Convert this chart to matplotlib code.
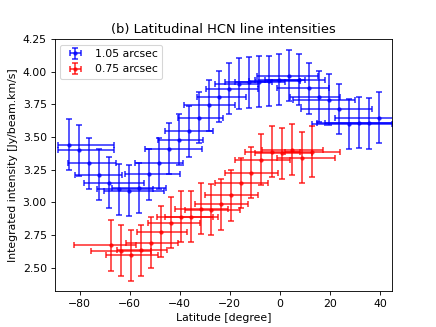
import matplotlib
matplotlib.use("Agg")
import matplotlib.pyplot as plt
import numpy as np

# 1.05 arcsec beam
lat_105 = [-84.4, -80.4, -76.4, -72.4, -68.4, -64.4, -60.4, -56.4, -52.4, -48.4,
           -44.4, -40.4, -36.4, -32.4, -28.4, -24.4, -20.4, -16.4, -12.4, -8.4,
           -4.4, -0.4, 3.6, 7.6, 11.6, 15.6, 19.6, 23.6, 27.6, 31.6, 35.6, 39.6]
int_105 = [3.44, 3.40, 3.30, 3.21, 3.15, 3.10, 3.09, 3.11, 3.215, 3.30,
           3.41, 3.48, 3.545, 3.65, 3.745, 3.81, 3.87, 3.91, 3.92, 3.925,
           3.93, 3.94, 3.97, 3.94, 3.875, 3.81, 3.785, 3.715, 3.60, 3.61, 3.605, 3.65]
lo_105 = [-88.8, -88.8, -84.8, -82.0, -78.4, -73.2, -70.4, -67.2, -62.0, -58.0,
          -54.0, -48.8, -46.0, -40.8, -38.4, -33.2, -29.6, -26.0, -22.0, -18.0,
          -12.4, -10.0, -9.2, -6.0, -1.2, 4.0, 5.2, 8.4, 12.8, 14.8, 18.0, 22.0]
hi_105 = [-66.4, -66.4, -65.6, -63.2, -54.4, -50.8, -46.4, -45.6, -40.0, -38.8,
          -31.2, -30.8, -26.8, -22.8, -18.0, -13.6, -8.8, -8.8, -3.2, 2.0,
          8.0, 10.0, 15.2, 18.0, 19.6, 24.0, 30.0, 36.8, 45.0, 46.0, 48.0, 48.0]
ierr_105 = 0.195

# 0.75 arcsec beam
lat_075 = [-67.3, -63.3, -59.3, -55.3, -51.3, -47.3, -43.3, -39.3, -35.3, -31.3,
           -27.3, -23.3, -19.3, -15.3, -11.3, -7.3, -3.3, 0.7, 4.7, 8.7, 12.7]
int_075 = [2.67, 2.63, 2.595, 2.633, 2.69, 2.775, 2.845, 2.888, 2.889, 2.951,
           2.943, 2.985, 3.054, 3.148, 3.228, 3.328, 3.389, 3.377, 3.402, 3.343, 3.389]
lo_075 = [-82.4, -75.6, -69.6, -65.2, -61.6, -57.2, -52.8, -49.2, -46.0, -42.0,
          -38.0, -34.0, -30.0, -26.0, -22.0, -18.0, -14.0, -10.0, -7.2, -1.2, 2.0]
hi_075 = [-57.6, -51.6, -48.8, -45.2, -40.8, -37.2, -32.0, -26.8, -24.8, -20.8,
          -16.0, -12.8, -8.8, -4.8, -0.8, 4.0, 8.0, 12.8, 17.2, 22.0, 24.0]
ierr_075 = 0.195

dpi = 78
fig = plt.figure(figsize=(436 / dpi, 327 / dpi), dpi=dpi)

for lat, val, lo, hi, ie, col, lab in [
        (lat_105, int_105, lo_105, hi_105, ierr_105, "b", "1.05 arcsec"),
        (lat_075, int_075, lo_075, hi_075, ierr_075, "r", "0.75 arcsec")]:
    lat = np.array(lat)
    xerr = [lat - np.array(lo), np.array(hi) - lat]
    plt.errorbar(lat, val, xerr=xerr, yerr=ie, fmt="o", color=col, ms=3,
                 elinewidth=1.7, capsize=3, capthick=1.7, alpha=0.7, label=lab)

plt.xlim(-90, 45)
plt.ylim(2.32, 4.25)
plt.xlabel("Latitude [degree]")
plt.ylabel("Integrated intensity [Jy/beam.km/s]")
plt.title("(b) Latitudinal HCN line intensities")
plt.legend(loc="upper left")
plt.savefig("out.png")
